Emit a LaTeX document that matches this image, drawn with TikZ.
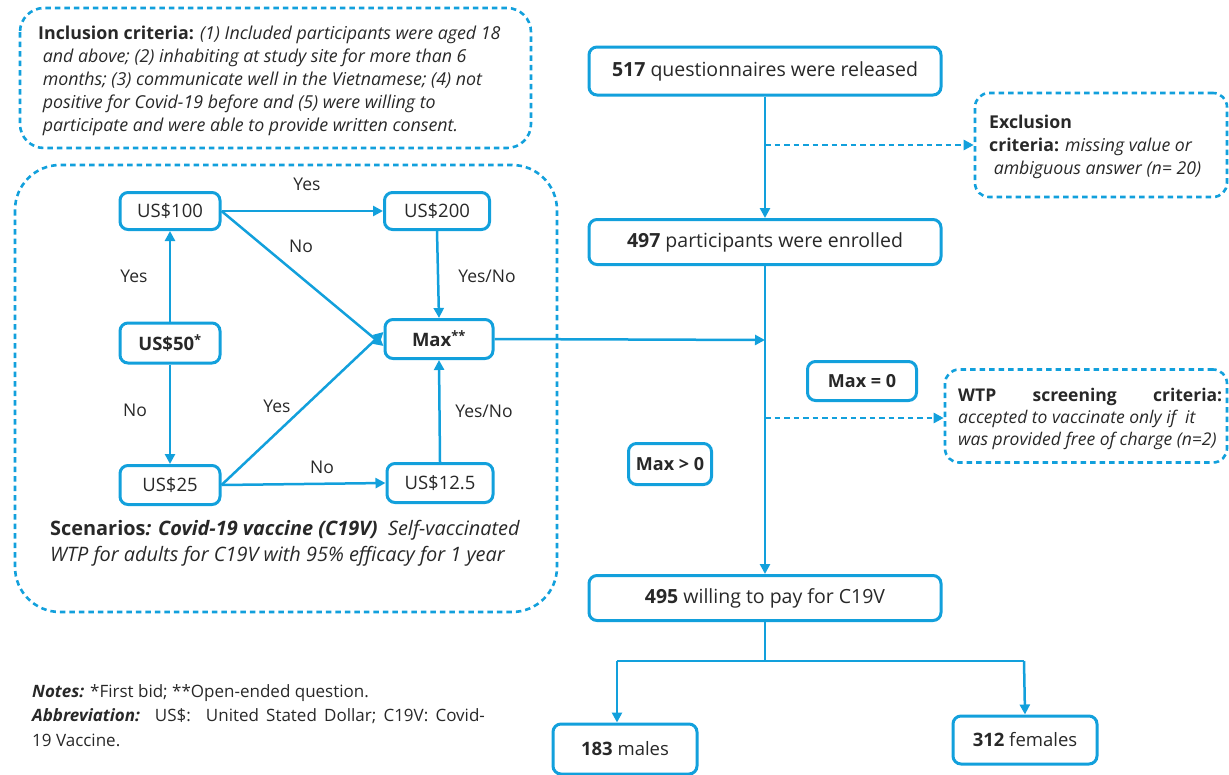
\documentclass[tikz,border=0pt]{standalone}
\usepackage{fontspec}
\setmainfont{Open Sans}
\usetikzlibrary{arrows.meta}
\definecolor{bl}{RGB}{18,160,220}
\definecolor{tx}{RGB}{40,40,40}
\tikzset{
  box/.style={draw=bl, line width=3pt, rounded corners=8pt, fill=white, text=tx, inner sep=0pt, align=center, font=\fontsize{18.5}{22}\selectfont},
  bigbox/.style={box, minimum width=352pt, font=\fontsize{19.5}{23}\selectfont},
  dbox/.style={draw=bl, line width=2.6pt, dash pattern=on 5.5pt off 4pt, rounded corners=14pt, text=tx, inner sep=0pt},
  arr/.style={draw=bl, line width=2.5pt, -{Triangle[length=10pt,width=10pt]}},
  darr/.style={draw=bl, line width=2.5pt, dash pattern=on 5.5pt off 4pt, -{Triangle[length=10pt,width=10pt]}},
  ln/.style={draw=bl, line width=2.5pt},
  lbl/.style={text=tx, font=\fontsize{17.5}{21}\selectfont, inner sep=0pt},
  txt/.style={text=tx, inner sep=0pt, anchor=north west, align=left},
}
\begin{document}
\begin{tikzpicture}[x=1pt,y=-1pt]
\useasboundingbox (0,0) rectangle (1229,774);

% Inclusion criteria box
\draw[dbox, rounded corners=24pt] (20,8) rectangle (531,148);
\node[txt, font=\fontsize{17.8}{23}\selectfont] (incl) at (38,26) {\textbf{Inclusion criteria:} \textit{(1) Included participants were aged 18}\\
\textit{\ and above; (2) inhabiting at study site for more than 6}\\
\textit{\ months; (3) communicate well in the Vietnamese; (4) not}\\
\textit{\ positive for Covid-19 before and (5) were willing to}\\
\textit{\ participate and were able to provide written consent.}};

% Scenario box
\draw[dbox, rounded corners=45pt] (15,165) rectangle (557,612);

\node[box, minimum width=100pt, minimum height=37pt] (u100) at (170,211) {US\$100};
\node[box, minimum width=105pt, minimum height=37pt] (u200) at (437,211) {US\$200};
\node[box, minimum width=100pt, minimum height=40pt] (u50) at (170,343) {\textbf{US\$50\textsuperscript{*}}};
\node[box, minimum width=108pt, minimum height=39pt] (mx) at (439,339) {\textbf{Max\textsuperscript{**}}};
\node[box, minimum width=100pt, minimum height=39pt] (u25) at (170,485) {US\$25};
\node[box, minimum width=106pt, minimum height=39pt] (u125) at (440,483) {US\$12.5};

\draw[arr] (u100.east) -- (u200.west);
\draw[arr] (u100.east) -- ([yshift=-7pt]mx.west);
\draw[arr] (u50.north) -- (u100.south);
\draw[arr] (u50.south) -- (u25.north);
\draw[arr] (u25.east) -- ([yshift=7pt]mx.west);
\draw[arr] (u25.east) -- (u125.west);
\draw[arr] (u200.south) -- (mx.north);
\draw[arr] (u125.north) -- (mx.south);

\node[lbl] (l1) at (307,184) {Yes};
\node[lbl] (l2) at (301,246) {No};
\node[lbl] (l3) at (134,276) {Yes};
\node[lbl] (l4) at (487,276) {Yes/No};
\node[lbl] (l5) at (135,410) {No};
\node[lbl] (l6) at (277,406) {Yes};
\node[lbl] (l7) at (484,411) {Yes/No};
\node[lbl] (l8) at (322,467) {No};

\node[txt, font=\fontsize{19.9}{26}\selectfont] (scen) at (50,520) {\textbf{Scenarios\textit{: Covid-19 vaccine (C19V)}}\ \ \textit{Self-vaccinated}\\
\textit{WTP for adults for C19V with 95\% efficacy for 1 year}};

% right column
\node[bigbox, minimum height=48pt] (n517) at (765,71) {\textbf{517} questionnaires were released};
\node[bigbox, minimum height=45pt] (n497) at (765,242) {\textbf{497} participants were enrolled};
\node[bigbox, minimum height=45pt] (n495) at (765,598) {\textbf{495} willing to pay for C19V};

\node[dbox, minimum width=252pt, minimum height=104pt] (excl) at (1101,145) {};
\node[txt, font=\fontsize{17.7}{23}\selectfont] (excltx) at (989,115) {\textbf{Exclusion}\\\textbf{criteria:} \textit{missing value or}\\\ \textit{ambiguous answer (n= 20)}};

\node[dbox, minimum width=282pt, minimum height=93pt] (wtp) at (1086,416) {};
\node[txt, font=\fontsize{17.5}{22}\selectfont] (wtptx) at (958,388) {\hbox to 264pt{\bfseries WTP\hfill screening\hfill criteria:}\\\textit{accepted to vaccinate only if\ \ it}\\\textit{was provided free of charge (n=2)}};

\node[box, minimum width=109pt, minimum height=39pt, font=\fontsize{18}{22}\selectfont\bfseries] (m0) at (862,381) {Max = 0};
\node[box, minimum width=83pt, minimum height=41pt, font=\fontsize{18}{22}\selectfont\bfseries] (mg0) at (670,464) {Max > 0};

\node[box, minimum width=144pt, minimum height=50pt] (males) at (625,749) {\textbf{183} males};
\node[box, minimum width=144pt, minimum height=48pt] (fem) at (1025,740) {\textbf{312} females};

\coordinate (e1) at (765,145);
\coordinate (j1) at (765,340);
\coordinate (w1) at (765,418);
\coordinate (s0) at (765,661);
\coordinate (s1) at (617,661);
\coordinate (s2) at (1024,661);

\draw[arr] (n517.south) -- (n497.north);
\draw[darr] (e1) -- (excl.west);
\draw[arr] (n497.south) -- (n495.north);
\draw[arr] (mx.east) -- (j1);
\draw[darr] (w1) -- (w1 -| wtp.west);
\draw[ln] (n495.south) -- (s0);
\draw[ln] (s1) -- (s2);
\draw[arr] (s1) -- (s1 |- males.north);
\draw[arr] (s2) -- (fem.north);

% notes
\node[txt, font=\fontsize{17}{24.5}\selectfont] (notes) at (32,684) {\textbf{\textit{Notes:}} *First bid; **Open-ended question.\\
\textbf{\textit{Abbreviation:}}\hspace{15pt}US\$:\hspace{15pt}{\spaceskip=7.2pt plus 1pt United Stated Dollar; C19V: Covid-}\\
19 Vaccine.};
\end{tikzpicture}
\end{document}
